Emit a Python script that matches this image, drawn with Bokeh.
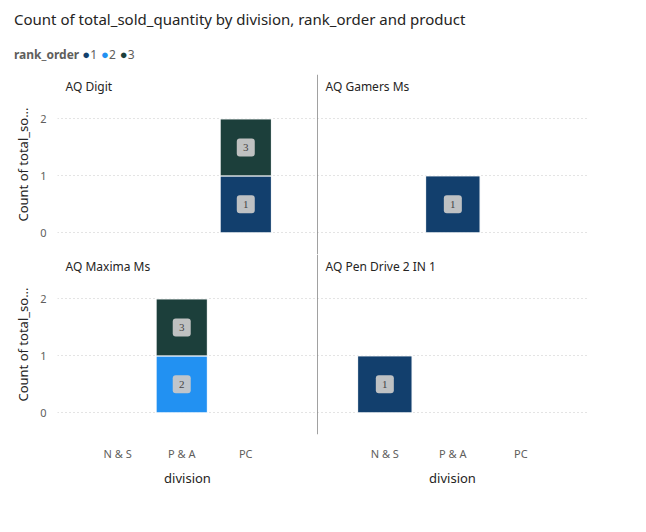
from bokeh.plotting import figure
from bokeh.models import ColumnDataSource, Span, Label, LabelSet, Div
from bokeh.layouts import gridplot, column
from bokeh.embed import file_html
from bokeh.resources import INLINE

divisions = ["N & S", "P & A", "PC"]
products = ["AQ Digit", "AQ Gamers Ms", "AQ Maxima Ms", "AQ Pen Drive 2 IN 1"]
rank_colors = {1: "#123F6D", 2: "#2291F2", 3: "#1C3F3B"}

# one row per stacked segment: product, division, rank_order, count
bar_product = ["AQ Digit", "AQ Digit", "AQ Gamers Ms", "AQ Maxima Ms", "AQ Maxima Ms", "AQ Pen Drive 2 IN 1"]
bar_division = ["PC", "PC", "P & A", "P & A", "P & A", "N & S"]
bar_rank = [1, 3, 1, 2, 3, 1]
bar_count = [1, 1, 1, 1, 1, 1]

FONT = "Noto Sans"
TXT = "#252423"
TICK = "#605E5C"


def make_panel(prod, left, bottom):
    if left:
        xr = (-0.94, 3.12)
        fw = 260
    else:
        xr = (-0.99, 2.98)
        fw = 270
    p = figure(frame_width=fw, frame_height=180, x_range=xr, y_range=(-0.38, 2.78),
               output_backend="svg", toolbar_location=None,
               min_border_left=57 if left else 0, min_border_right=40 if not left else 0,
               min_border_top=0, min_border_bottom=0)
    p.outline_line_color = None
    p.background_fill_color = None
    p.border_fill_color = None
    xs, bot, top, cols, lab = [], [], [], [], []
    base = {}
    for pr, dv, rk, ct in zip(bar_product, bar_division, bar_rank, bar_count):
        if pr != prod:
            continue
        x = divisions.index(dv)
        b = base.get(x, 0)
        xs.append(x)
        bot.append(b)
        top.append(b + ct)
        cols.append(rank_colors[rk])
        lab.append(str(rk))
        base[x] = b + ct
    src = ColumnDataSource(dict(x=xs, bottom=bot, top=top, color=cols, label=lab,
                                mid=[(b + t) / 2 for b, t in zip(bot, top)]))
    p.vbar(x="x", width=0.8, bottom="bottom", top="top", fill_color="color",
           line_color="white", line_width=1, source=src)
    p.rect(x="x", y="mid", width=18, height=18, width_units="screen", height_units="screen",
           fill_color="#C8C8C8", line_color=None, fill_alpha=0.95, border_radius=3, source=src)
    p.add_layout(LabelSet(x="x", y="mid", text="label", source=src, text_align="center",
                          text_baseline="middle", text_font_size="11px", text_color="#444444",
                          text_font=FONT))
    p.add_layout(Label(x=8, y=160, x_units="screen", y_units="screen", text=prod,
                       text_font=FONT, text_font_size="12px", text_color=TXT))
    p.xgrid.grid_line_color = None
    p.ygrid.grid_line_color = "#C8C8C8"
    p.ygrid.grid_line_dash = "1 3"
    p.yaxis.ticker = [0, 1, 2]
    p.xaxis.ticker = [0, 1, 2]
    p.xaxis.major_label_overrides = {i: d for i, d in enumerate(divisions)}
    for ax in (p.xaxis[0], p.yaxis[0]):
        ax.axis_line_color = None
        ax.major_tick_line_color = None
        ax.minor_tick_line_color = None
        ax.major_label_text_color = TICK
        ax.major_label_text_font = FONT
        ax.major_label_text_font_size = "11px"
        ax.axis_label_text_font = FONT
        ax.axis_label_text_font_style = "normal"
        ax.axis_label_text_font_size = "13px"
        ax.axis_label_text_color = TXT
    if left:
        p.yaxis.axis_label = "Count of total_so..."
    else:
        p.yaxis.visible = False
    if bottom:
        p.xaxis.axis_label = "division"
    else:
        p.xaxis.visible = False
        p.add_layout(Span(location=-0.38, dimension="width", line_color="#444444", line_width=1))
    if not left:
        p.add_layout(Span(location=xr[0], dimension="height", line_color="#444444", line_width=1))
    return p


panels = [make_panel(pr, i % 2 == 0, i >= 2) for i, pr in enumerate(products)]
grid = gridplot([[panels[0], panels[1]], [panels[2], panels[3]]], toolbar_location=None)

title = Div(text="Count of total_sold_quantity by division, rank_order and product",
            styles={"font-family": FONT, "font-size": "15px", "color": TXT, "padding-left": "9px",
                    "padding-top": "4px"}, width=620, height=30)
dots = "".join(
    f'<span style="color:{c};font-size:13px">&#9679;</span><span style="color:{TICK};margin-right:4px">{k}</span>'
    for k, c in rank_colors.items())
legend = Div(text=f'<b style="color:{TICK}">rank_order</b> {dots}',
             styles={"font-family": FONT, "font-size": "12px", "padding-left": "9px"},
             width=620, height=24)

p = column(title, legend, grid, spacing=0)
open("out.html", "w").write(file_html(p, INLINE))
